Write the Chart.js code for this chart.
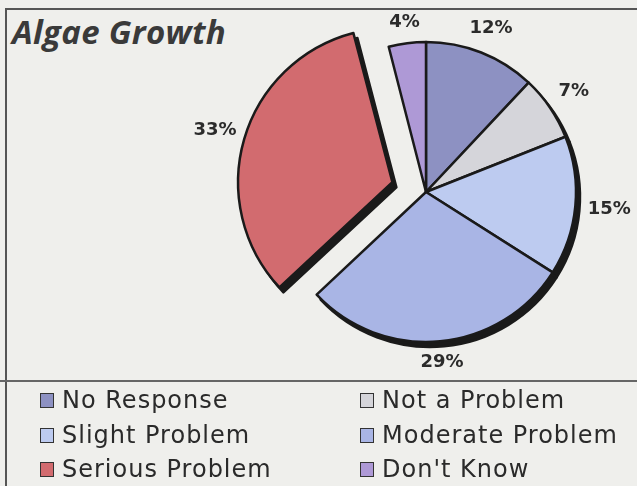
<!DOCTYPE html>
<html>
<head>
<meta charset="utf-8">
<script src="https://cdn.jsdelivr.net/npm/chart.js@4.4.0/dist/chart.umd.min.js"></script>
<style>
    body { margin: 0; width: 637px; height: 486px; overflow: hidden; position: relative; background: #efefec; }
    .rule-top { position: absolute; left: 5px; top: 8px; width: 640px; height: 0; border-top: 2px solid #555; }
    .rule-left { position: absolute; left: 5px; top: 8px; width: 0; height: 490px; border-left: 2px solid #555; }
    .rule-mid { position: absolute; left: 0; top: 380px; width: 640px; height: 0; border-top: 2px solid #666; }
    h1 { position: absolute; left: 12px; top: 15px; margin: 0; font: italic bold 33px/33px "Open Sans", sans-serif; letter-spacing: 0.3px; color: #3a3a3a; }
    #chart-box { position: absolute; left: 0; top: 0; width: 637px; height: 384px; }
    #legend { position: absolute; left: 40px; top: 383px; display: grid; grid-template-columns: 320px auto; grid-auto-rows: 34.5px; font: 24px/34.5px "DejaVu Sans", sans-serif; letter-spacing: 1px; color: #2a2a2a; }
    #legend .swatch { display: inline-block; width: 14px; height: 15px; box-sizing: border-box; border: 1px solid #333; margin-right: 8px; }
</style>
</head>
<body>
<div class="rule-top"></div>
<div class="rule-left"></div>
<div class="rule-mid"></div>
<h1>Algae Growth</h1>
<div id="chart-box"><canvas id="algae-chart" width="637" height="384"></canvas></div>
<div id="legend"></div>
<script>
// survey answers, clockwise from 12 o'clock
const categories = ["No Response", "Not a Problem", "Slight Problem", "Moderate Problem", "Serious Problem", "Don't Know"];
const percents = [12, 7, 15, 29, 33, 4];
const sliceColors = ["#8d91c2", "#d5d5da", "#bdcbf0", "#a9b5e5", "#d26b6f", "#ae99d6"];

// Black drop shadow under the whole pie (each arc drawn black, shifted down-right)
const dropShadow = {
    id: "dropShadow",
    beforeDatasetsDraw(chart) {
        const ctx = chart.ctx;
        ctx.save();
        ctx.translate(4, 5);
        chart.getDatasetMeta(0).data.forEach((arc) => {
            const opts = arc.options;
            arc.options = Object.assign({}, opts, { backgroundColor: "#1a1a1a", borderColor: "#1a1a1a" });
            arc.draw(ctx);
            arc.options = opts;
        });
        ctx.restore();
    },
};

// Percent labels just outside each slice
const pctLabels = {
    id: "pctLabels",
    afterDatasetsDraw(chart) {
        const ctx = chart.ctx;
        ctx.save();
        ctx.font = 'bold 18px "DejaVu Sans"';
        ctx.fillStyle = "#2b2b2b";
        ctx.textAlign = "center";
        ctx.textBaseline = "middle";
        chart.getDatasetMeta(0).data.forEach((arc, i) => {
            const p = arc.getProps(["x", "y", "startAngle", "endAngle", "outerRadius"], true);
            const mid = (p.startAngle + p.endAngle) / 2;
            const shift = (arc.options.offset || 0) / 4; // chart.js moves exploded arcs by offset/4
            const ux = Math.cos(mid);
            const uy = Math.sin(mid);
            const text = percents[i] + "%";
            const w = ctx.measureText(text).width;
            const d = shift + p.outerRadius + 12 + Math.abs(ux) * w / 2 + Math.abs(uy) * 7;
            ctx.fillText(text, p.x + ux * d, p.y + uy * d);
        });
        ctx.restore();
    },
};

new Chart(document.getElementById("algae-chart"), {
    type: "pie",
    data: {
        labels: categories,
        datasets: [{
            data: percents,
            backgroundColor: sliceColors,
            borderColor: "#1a1a1a",
            borderWidth: 2.5,
            borderJoinStyle: "round",
            offset: (c) => (categories[c.dataIndex] === "Serious Problem" ? 140 : 0),
        }],
    },
    options: {
        responsive: false,
        animation: false,
        radius: 150,
        layout: { padding: { left: 236, right: 21, top: 0, bottom: 0 } },
        plugins: {
            legend: { display: false },
            tooltip: { enabled: false },
        },
    },
    plugins: [dropShadow, pctLabels],
});

// two-column legend, same order as the slices
const legendDiv = document.getElementById("legend");
categories.forEach((name, i) => {
    const item = document.createElement("div");
    item.innerHTML = '<span class="swatch" style="background:' + sliceColors[i] + '"></span>' + name;
    legendDiv.appendChild(item);
});
</script>
</body>
</html>
